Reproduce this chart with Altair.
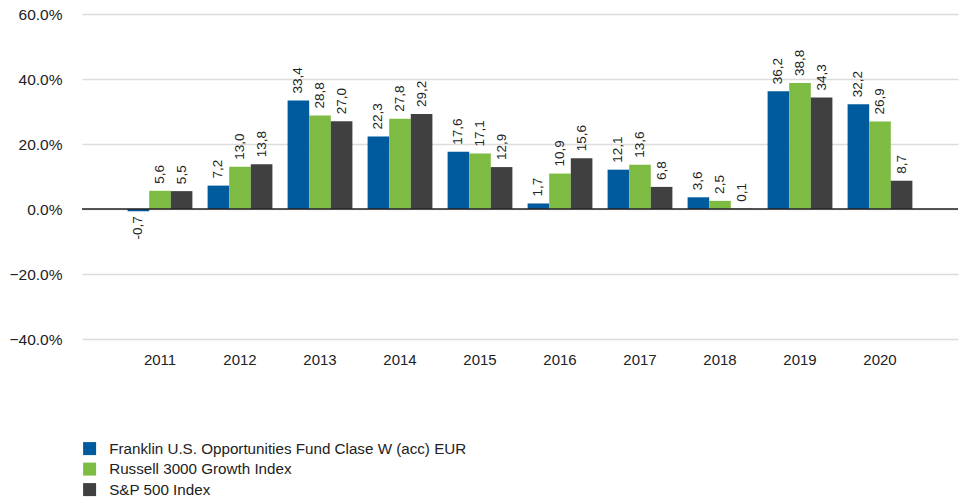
import altair as alt
import pandas as pd

years = ["2011", "2012", "2013", "2014", "2015", "2016", "2017", "2018", "2019", "2020"]
series = [
    "Franklin U.S. Opportunities Fund Clase W (acc) EUR",
    "Russell 3000 Growth Index",
    "S&P 500 Index",
]
franklin = [-0.7, 7.2, 33.4, 22.3, 17.6, 1.7, 12.1, 3.6, 36.2, 32.2]
russell = [5.6, 13.0, 28.8, 27.8, 17.1, 10.9, 13.6, 2.5, 38.8, 26.9]
sp500 = [5.5, 13.8, 27.0, 29.2, 12.9, 15.6, 6.8, 0.1, 34.3, 8.7]
colors = ["#005A9E", "#7DBB42", "#404040"]

rows = []
for s, vals in zip(series, [franklin, russell, sp500]):
    for y, v in zip(years, vals):
        rows.append({"year": y, "series": s, "value": v,
                     "label": f"{v:.1f}".replace(".", ",")})
df = pd.DataFrame(rows)

FONT = "Liberation Sans"
TXT = "#222222"

x = alt.X("year:N", sort=years, title=None,
          scale=alt.Scale(paddingInner=0.19, paddingOuter=0.57),
          axis=alt.Axis(labelAngle=0, ticks=False, domain=False, labelPadding=13,
                        labelFontSize=15, labelColor=TXT, labelFont=FONT))
y = alt.Y("value:Q", title=None,
          scale=alt.Scale(domain=[-40, 60], nice=False),
          axis=alt.Axis(values=[-40, -20, 0, 20, 40, 60], ticks=False, domain=False,
                        labelExpr="format(datum.value, '.1f') + '%'",
                        labelPadding=20, labelFontSize=15.5, labelColor=TXT,
                        labelFont=FONT, gridColor="#dcdcdc", gridWidth=1.5))
xoff = alt.XOffset("series:N", sort=series)

base = alt.Chart(df)

bars = base.mark_bar().encode(
    x=x, y=y, xOffset=xoff,
    color=alt.Color("series:N", sort=series,
                    scale=alt.Scale(domain=series, range=colors),
                    legend=alt.Legend(title=None, orient="none", legendX=0, legendY=427,
                                      symbolType="square", symbolSize=169,
                                      symbolStrokeWidth=0, symbolOpacity=1,
                                      labelFontSize=15.2, labelFont=FONT, labelColor=TXT,
                                      labelLimit=0, labelOffset=12, rowPadding=4.5,
                                      padding=0)),
)

pos_text = base.transform_filter("datum.value >= 0").mark_text(
    angle=270, align="left", baseline="middle", dx=7, fontSize=13.5, font=FONT, color=TXT
).encode(x=x, y=y, xOffset=xoff, text="label:N")

neg_text = base.transform_filter("datum.value < 0").mark_text(
    angle=270, align="right", baseline="middle", dx=-5, fontSize=13.5, font=FONT, color=TXT
).encode(x=x, y=y, xOffset=xoff, text="label:N")

zero = alt.Chart(pd.DataFrame({"z": [0]})).mark_rule(color="#222222", strokeWidth=1.5).encode(
    y=alt.Y("z:Q")
)

chart = alt.layer(bars, zero, pos_text, neg_text).properties(
    width=876, height=325,
    autosize=alt.AutoSizeParams(type="none"),
    padding={"left": 82, "top": 14, "right": 2, "bottom": 159},
    background="white",
).configure_view(stroke=None)

chart.save("out.html", embed_options={"renderer": "svg", "actions": False})
